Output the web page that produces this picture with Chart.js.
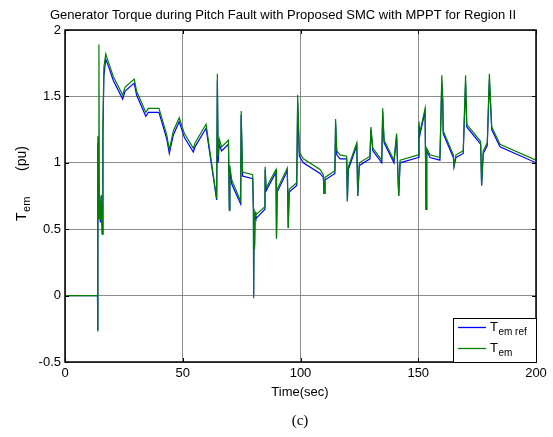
<!DOCTYPE html>
<html>
<head>
<meta charset="utf-8">
<script src="https://cdn.jsdelivr.net/npm/chart.js@4.4.1/dist/chart.umd.min.js"></script>
<style>
  html, body { margin: 0; padding: 0; background: #fff; }
  canvas { display: block; }
</style>
</head>
<body>
<canvas id="torqueChart" width="553" height="437"></canvas>
<script>
// simulation time (s)
var timeSec = [
    0, 13.8, 13.9, 14.0, 14.2, 14.4, 14.6, 15.0, 15.4, 15.8,
    16.1, 16.5, 17.3, 18.4, 20.5, 24.5, 25.5, 29.4, 30.4, 34.3,
    35.4, 39.9, 43.2, 44.3, 46.0, 48.5, 50.7, 54.5, 55.2, 59.9,
    64.4, 64.7, 65.0, 65.5, 66.5, 69.4, 69.8, 70.0, 70.8, 74.6,
    74.8, 75.4, 79.7, 80.0, 80.1, 80.3, 80.5, 80.7, 81.1, 84.9,
    85.0, 85.4, 89.6, 89.8, 90.1, 94.4, 94.8, 95.2, 98.4, 98.8,
    99.5, 101.2, 108.3, 109.7, 110.0, 110.4, 114.6, 114.9, 115.4, 116.8,
    119.6, 119.9, 120.3, 123.9, 124.3, 125.0, 129.5, 129.9, 130.7, 134.5,
    134.9, 135.5, 139.7, 140.8, 141.7, 142.3, 150.0, 150.3, 150.7, 152.9,
    153.3, 153.6, 155.0, 159.2, 160.0, 160.4, 160.6, 164.9, 165.2, 166.0,
    169.1, 170.1, 170.6, 176.5, 176.9, 177.6, 179.3, 180.2, 181.2, 184.7,
    200
];

// reference torque (pu)
var tEmRef = [
    0, 0, -0.26, 1.15, 0.60, 0.72, 0.72, 0.55, 0.75, 0.47,
    1.20, 1.65, 1.78, 1.73, 1.62, 1.48, 1.54, 1.60, 1.51, 1.35,
    1.38, 1.38, 1.18, 1.07, 1.21, 1.31, 1.19, 1.08, 1.12, 1.26,
    0.72, 1.62, 1.00, 1.14, 1.09, 1.14, 0.65, 0.95, 0.84, 0.69,
    1.36, 0.90, 0.88, 0.65, 0.00, 0.60, 0.38, 0.60, 0.58, 0.65,
    0.95, 0.79, 0.93, 0.43, 0.78, 0.94, 0.51, 0.78, 0.83, 1.45,
    1.05, 1.00, 0.92, 0.89, 0.77, 0.87, 0.92, 1.30, 1.06, 1.03,
    1.03, 0.71, 0.95, 1.13, 0.75, 0.98, 1.03, 1.25, 1.09, 1.00,
    1.38, 1.15, 1.00, 1.20, 0.75, 1.00, 1.04, 1.28, 1.21, 1.39,
    0.65, 1.09, 1.04, 1.02, 1.60, 1.46, 1.22, 1.04, 0.97, 1.04,
    1.07, 1.60, 1.27, 1.14, 0.83, 1.07, 1.13, 1.62, 1.25, 1.12,
    1.00
];

// measured generator torque (pu)
var tEm = [
    0, 0, -0.27, 1.20, 0.58, 1.89, 0.75, 0.57, 0.76, 0.46,
    1.25, 1.72, 1.82, 1.76, 1.65, 1.51, 1.57, 1.63, 1.54, 1.38,
    1.41, 1.41, 1.21, 1.10, 1.24, 1.34, 1.22, 1.11, 1.15, 1.29,
    0.73, 1.67, 1.05, 1.18, 1.12, 1.17, 0.64, 0.98, 0.87, 0.71,
    1.39, 0.93, 0.91, 0.66, -0.02, 0.62, 0.35, 0.63, 0.61, 0.67,
    0.97, 0.81, 0.95, 0.43, 0.80, 0.96, 0.51, 0.80, 0.85, 1.51,
    1.08, 1.03, 0.95, 0.91, 0.77, 0.89, 0.94, 1.33, 1.09, 1.06,
    1.05, 0.71, 0.97, 1.15, 0.75, 1.00, 1.05, 1.27, 1.11, 1.02,
    1.41, 1.17, 1.02, 1.22, 0.75, 1.02, 1.06, 1.31, 1.23, 1.41,
    0.65, 1.11, 1.06, 1.04, 1.66, 1.48, 1.24, 1.06, 0.98, 1.06,
    1.09, 1.66, 1.29, 1.16, 0.83, 1.09, 1.15, 1.67, 1.27, 1.14,
    1.02
];

var xTicks = [0, 50, 100, 150, 200];
var yTicks = [-0.5, 0, 0.5, 1, 1.5, 2];

var FONT = '"Liberation Sans", Arial, sans-serif';

function toPoints(xs, ys) {
    return xs.map(function (x, i) { return { x: x, y: ys[i] }; });
}

// main text with a subscript, drawn left to right from the (x, y) baseline
function drawSubText(ctx, x, y, main, sub, size) {
    ctx.font = size + 'px ' + FONT;
    ctx.textAlign = 'left';
    ctx.textBaseline = 'alphabetic';
    ctx.fillText(main, x, y);
    var w = ctx.measureText(main).width;
    ctx.font = Math.round(size * 0.77) + 'px ' + FONT;
    ctx.fillText(sub, x + w + 0.5, y + 4);
    return w + 0.5 + ctx.measureText(sub).width;
}

var decorations = {
    id: 'decorations',
    afterDraw: function (chart) {
        var ctx = chart.ctx;
        var area = chart.chartArea;
        var xs = chart.scales.x, ys = chart.scales.y;
        ctx.save();
        ctx.fillStyle = '#000';
        ctx.strokeStyle = '#000';

        // axes box with inward ticks
        ctx.lineWidth = 1.5;
        ctx.strokeRect(area.left, area.top, area.right - area.left, area.bottom - area.top);
        ctx.lineWidth = 1;
        ctx.beginPath();
        xTicks.forEach(function (v) {
            var px = Math.round(xs.getPixelForValue(v)) + 0.5;
            ctx.moveTo(px, area.bottom); ctx.lineTo(px, area.bottom - 4);
            ctx.moveTo(px, area.top); ctx.lineTo(px, area.top + 4);
        });
        yTicks.forEach(function (v) {
            var py = Math.round(ys.getPixelForValue(v)) + 0.5;
            ctx.moveTo(area.left, py); ctx.lineTo(area.left + 4, py);
            ctx.moveTo(area.right, py); ctx.lineTo(area.right - 4, py);
        });
        ctx.stroke();

        // title
        ctx.font = '13px ' + FONT;
        ctx.textAlign = 'center';
        ctx.textBaseline = 'middle';
        ctx.fillText('Generator Torque during Pitch Fault with Proposed SMC with MPPT for Region II', 283, 15);

        // x label and caption
        ctx.fillText('Time(sec)', 300, 392);
        ctx.font = '15px "Liberation Serif", "Times New Roman", serif';
        ctx.fillText('(c)', 300, 421);

        // y label, rotated; the subscript leaves a wide gap before the unit
        ctx.save();
        ctx.translate(26, 221);
        ctx.rotate(-Math.PI / 2);
        drawSubText(ctx, 0, 0, 'T', 'em', 14);
        ctx.font = '14px ' + FONT;
        ctx.textAlign = 'right';
        ctx.fillText('(pu)', 75, 0);
        ctx.restore();

        // legend
        var lx = 453, ly = 318, lw = 83, lh = 44;
        ctx.fillStyle = '#fff';
        ctx.fillRect(lx, ly, lw, lh);
        ctx.lineWidth = 1;
        ctx.strokeStyle = '#000';
        ctx.strokeRect(lx + 0.5, ly + 0.5, lw, lh);
        var rows = [
            { color: '#0000ff', sub: 'em ref', y: 327 },
            { color: '#008000', sub: 'em', y: 348 }
        ];
        rows.forEach(function (r) {
            ctx.strokeStyle = r.color;
            ctx.lineWidth = 1.3;
            ctx.beginPath();
            ctx.moveTo(458, r.y + 0.5);
            ctx.lineTo(486, r.y + 0.5);
            ctx.stroke();
            ctx.fillStyle = '#000';
            drawSubText(ctx, 490, r.y + 4, 'T', r.sub, 13);
        });
        ctx.restore();
    }
};

new Chart(document.getElementById('torqueChart'), {
    type: 'line',
    data: {
        datasets: [
            {
                label: 'T em',
                data: toPoints(timeSec, tEm),
                borderColor: '#008000',
                borderWidth: 1.2,
                pointRadius: 0,
                tension: 0,
                order: 0
            },
            {
                label: 'T em ref',
                data: toPoints(timeSec, tEmRef),
                borderColor: '#0000ff',
                borderWidth: 1.2,
                pointRadius: 0,
                tension: 0,
                order: 1
            }
        ]
    },
    options: {
        responsive: false,
        animation: false,
        events: [],
        layout: { padding: { left: 0, top: 30, right: 17, bottom: 0 } },
        plugins: {
            legend: { display: false },
            title: { display: false },
            tooltip: { enabled: false }
        },
        scales: {
            x: {
                type: 'linear',
                min: 0,
                max: 200,
                afterFit: function (scale) { scale.height = 75; },
                afterBuildTicks: function (scale) {
                    scale.ticks = xTicks.map(function (v) { return { value: v }; });
                },
                border: { display: false },
                grid: { color: 'rgba(120,120,120,0.85)', lineWidth: 1, drawTicks: false },
                ticks: {
                    padding: 4,
                    color: '#000',
                    font: { family: FONT, size: 13 },
                    maxRotation: 0
                }
            },
            y: {
                type: 'linear',
                min: -0.5,
                max: 2,
                afterFit: function (scale) { scale.width = 65; },
                afterBuildTicks: function (scale) {
                    scale.ticks = yTicks.map(function (v) { return { value: v }; });
                },
                border: { display: false },
                grid: { color: 'rgba(120,120,120,0.85)', lineWidth: 1, drawTicks: false },
                ticks: {
                    padding: 4,
                    color: '#000',
                    font: { family: FONT, size: 13 },
                    callback: function (v) { return String(v); }
                }
            }
        }
    },
    plugins: [decorations]
});
</script>
</body>
</html>
